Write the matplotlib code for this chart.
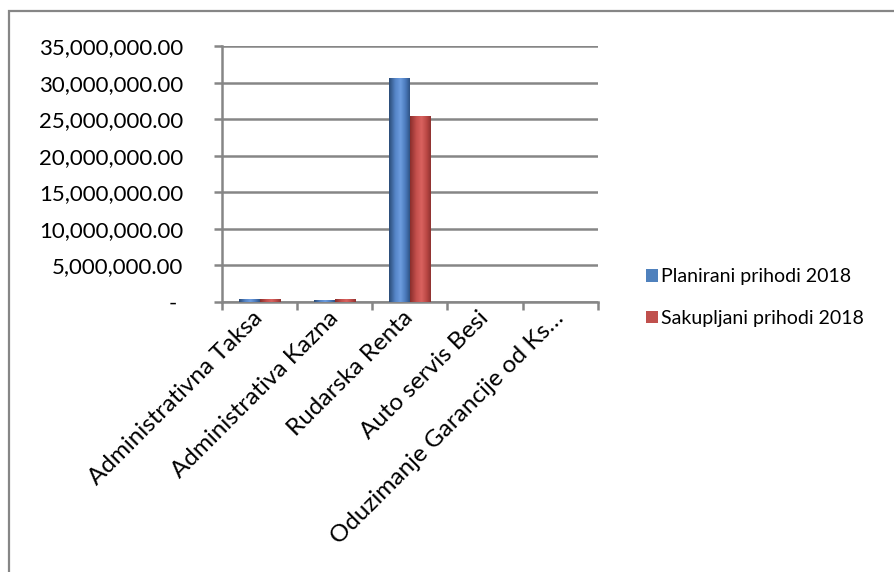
import numpy as np
import matplotlib.pyplot as plt
from matplotlib.colors import LinearSegmentedColormap
from matplotlib.ticker import FuncFormatter, FixedLocator
from matplotlib.patches import Rectangle

plt.rcParams['font.family'] = ['Lato', 'DejaVu Sans']

# data
categories = ['Administrativna Taksa', 'Administrativa Kazna', 'Rudarska Renta',
              'Auto servis Besi', 'Oduzimanje Garancije od Ks\u2026']
planirani = [300000, 200000, 30500000, 0, 0]
sakupljani = [300000, 280000, 25300000, 0, 0]
series_names = ['Planirani prihodi 2018', 'Sakupljani prihodi 2018']

fig = plt.figure(figsize=(8.95, 5.72), dpi=100)
ax = fig.add_axes([0.248, 0.472, 0.42, 0.4475])

# outer chart border (only top/left visible in the reference)
fig.patches.append(Rectangle((9 / 895, -0.1), 1.2, 1 - 10.5 / 572 + 0.1,
                             transform=fig.transFigure, fill=False,
                             edgecolor='#868686', linewidth=1.6))

x = np.arange(len(categories))
w = 0.275
b1 = ax.bar(x - w / 2, planirani, w, color='#4f81bd', label=series_names[0], zorder=3)
b2 = ax.bar(x + w / 2, sakupljani, w, color='#c0504d', label=series_names[1], zorder=3)

# cylinder-like shading like the Excel bars
cm_blue = LinearSegmentedColormap.from_list('b', [(0, '#2b4c78'), (0.3, '#5585c8'),
                                                  (0.55, '#6d9de0'), (0.8, '#4a79bb'),
                                                  (1, '#2f5386')])
cm_red = LinearSegmentedColormap.from_list('r', [(0, '#8a2e2c'), (0.3, '#c44f4c'),
                                                 (0.55, '#d9625f'), (0.8, '#bb4845'),
                                                 (1, '#8f3331')])
grad = np.linspace(0, 1, 64).reshape(1, -1)
for bars, cm in ((b1, cm_blue), (b2, cm_red)):
    for bar in bars:
        h = bar.get_height()
        if h <= 0:
            continue
        x0 = bar.get_x()
        ax.imshow(grad, extent=[x0, x0 + bar.get_width(), 0, h], aspect='auto',
                  cmap=cm, zorder=4, interpolation='bilinear')

ax.set_xlim(-0.5, len(categories) - 0.5)
ax.set_ylim(0, 35000000)
ax.set_yticks(np.arange(0, 35000001, 5000000))


def fmt(v, pos):
    if v == 0:
        return '- '
    return f'{v:,.2f}'


ax.yaxis.set_major_formatter(FuncFormatter(fmt))
ax.grid(axis='y', color='#868686', linewidth=1.8, zorder=0)
ax.set_axisbelow(True)

for s in ['top', 'right']:
    ax.spines[s].set_visible(False)
for s in ['left', 'bottom']:
    ax.spines[s].set_color('#868686')
    ax.spines[s].set_linewidth(1.8)

ax.set_xticks(x)
ax.set_xticklabels(categories, rotation=45, ha='right', va='center',
                   rotation_mode='anchor', fontsize=17.5)
ax.xaxis.set_minor_locator(FixedLocator(np.arange(-0.5, len(categories), 1)))
ax.tick_params(axis='x', which='major', length=0, pad=9)
ax.tick_params(axis='x', which='minor', length=6, width=1.8, color='#868686')
ax.tick_params(axis='y', length=6, width=1.8, color='#868686', labelsize=16, pad=22)

fig.legend(handles=[b1, b2], labels=series_names, loc='upper left',
           bbox_to_anchor=(629 / 895, 1 - 251 / 572), frameon=False, fontsize=14,
           handlelength=0.6, handleheight=0.6, handletextpad=0.15, labelspacing=1.25)

fig.savefig('out.png', dpi=100)
